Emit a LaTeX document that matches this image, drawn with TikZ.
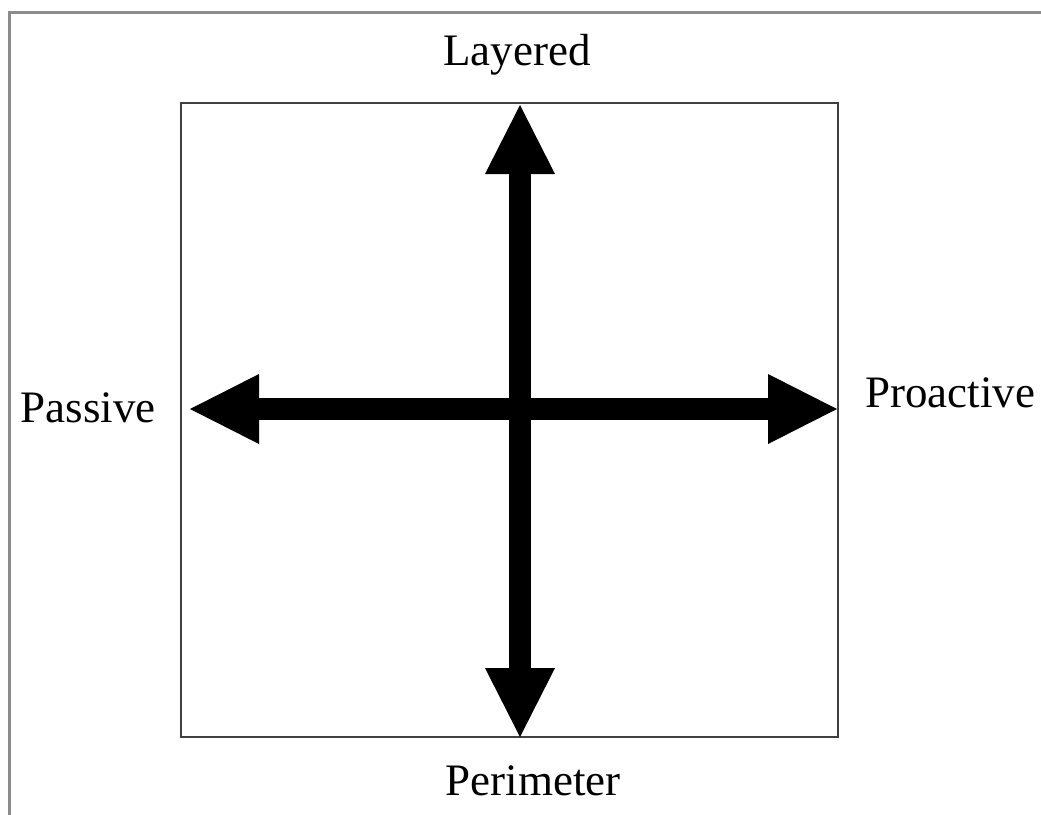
\documentclass[tikz,border=0pt]{standalone}
\usepackage{fontspec}
\setmainfont{Liberation Serif}
\usetikzlibrary{arrows.meta}
\begin{document}
\begin{tikzpicture}[x=1pt,y=-1pt,
  lbl/.style={anchor=base,inner sep=0pt,font=\fontsize{45}{54}\selectfont},
  bigarrow/.style={line width=22pt,{Triangle[length=69pt,width=70pt,line width=0pt]}-{Triangle[length=69pt,width=70pt,line width=0pt]}},
  frameline/.style={draw=black!45,line width=3pt},
  boxline/.style={draw=black!75,line width=2.8pt}]
\useasboundingbox (0,0) rectangle (1041,814);
\fill[white] (0,0) rectangle (1041,814);
% outer frame (partial)
\draw[frameline] (1045,12) -- (9,12) -- (9,818);
% inner square
\draw[boxline] (181,103) rectangle (838,737);
% end points
\coordinate (top) at (520,105);
\coordinate (bottom) at (520,737);
\coordinate (left) at (190,409);
\coordinate (right) at (837,409);
\draw[bigarrow] (left) -- (right);
\draw[bigarrow] (top) -- (bottom);
% labels
\node[lbl] (layered) at (517,65) {Layered};
\node[lbl] (passive) at (88,422) {Passive};
\node[lbl] (proactive) at (950,407) {Proactive};
\node[lbl] (perimeter) at (533,795) {Perimeter};
\end{tikzpicture}
\end{document}
